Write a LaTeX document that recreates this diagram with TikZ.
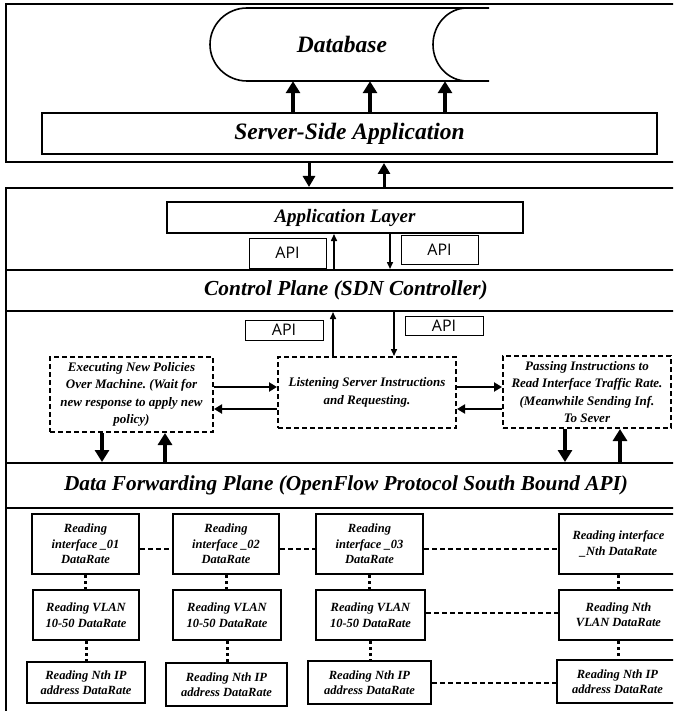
\documentclass[tikz,border=0pt]{standalone}
\usepackage{fontspec}
\setmainfont{Liberation Serif}
\newfontfamily\apifont{Open Sans}
\usetikzlibrary{arrows.meta}
\frenchspacing
\tikzset{
  frame/.style={draw, line width=2pt, inner sep=0pt},
  box/.style={draw, line width=2pt, inner sep=0pt, align=center},
  apibox/.style={draw, line width=0.9pt, inner sep=0pt, font=\apifont\fontsize{16}{18}\selectfont},
  dbox/.style={draw, line width=2pt, dash pattern=on 5pt off 3pt, inner sep=0pt, align=center, font=\fontsize{13}{17.5}\selectfont\bfseries\itshape},
  rbox/.style={draw, line width=2pt, inner sep=0pt, align=center, font=\fontsize{12.5}{15.5}\selectfont\bfseries\itshape},
  bigarrow/.style={line width=3.5pt, -{Triangle[length=12pt,width=14pt]}},
  midarrow/.style={line width=3pt, -{Triangle[length=11pt,width=12pt]}},
  thinarrow/.style={line width=1.5pt, -{Triangle[length=7pt,width=6pt]}},
  harrow/.style={line width=2.5pt, -{Triangle[length=8pt,width=9pt]}},
  dashcon/.style={line width=2pt, dash pattern=on 5pt off 3pt},
  dotcon/.style={line width=3pt, dash pattern=on 3pt off 3pt},
}
\begin{document}
\begin{tikzpicture}[x=1pt,y=-1pt]
\useasboundingbox (0,0) rectangle (673,711);
\clip (0,0) rectangle (673,711);
% top frame
\node[frame, minimum width=680pt, minimum height=158pt] (top) at (346,83) {};
% database
\node[inner sep=0pt, minimum width=279pt, minimum height=73pt, font=\fontsize{23.5}{28}\selectfont\bfseries\itshape] (db) at (342,44.5) {Database};
\draw[line width=1.6pt] (489,8) -- (247,8) arc[start angle=270, end angle=90, x radius=37, y radius=36.5] -- (489,81);
\draw[line width=1.6pt] (467,8) arc[start angle=270, end angle=90, x radius=34, y radius=36.5];
\node[box, minimum width=615pt, minimum height=41pt, font=\fontsize{23.5}{28}\selectfont\bfseries\itshape] (ssa) at (349.5,133.5) {Server-Side Application};
\foreach \dx in {-56.5,20.5,95.5}
  \draw[bigarrow] ([xshift=\dx pt]ssa.north) -- ([xshift=\dx pt]ssa.north |- db.south);
% second frame
\node[frame, minimum width=680pt, minimum height=537pt] (main) at (346,456.5) {};
\draw[midarrow] ([xshift=-37pt]top.south) -- ([xshift=-37pt]top.south |- main.north);
\draw[midarrow] ([xshift=38pt]top.south |- main.north) -- ([xshift=38pt]top.south);
% application layer
\node[box, minimum width=356pt, minimum height=31pt, font=\fontsize{19}{22}\selectfont\bfseries\itshape] (app) at (345,217.5) {Application Layer};
\node[frame, minimum width=680pt, minimum height=41pt, font=\fontsize{21.4}{25}\selectfont\bfseries\itshape] (cp) at (346,290.5) {Control Plane (SDN Controller)};
\node[apibox, minimum width=77pt, minimum height=30pt] (api1) at (287.5,253) {API};
\node[apibox, minimum width=77pt, minimum height=29pt] (api2) at (439.5,249.5) {API};
\draw[thinarrow] ([xshift=-11pt]app.south |- cp.north) -- ([xshift=-11pt]app.south);
\draw[thinarrow] ([xshift=45pt]app.south) -- ([xshift=45pt]app.south |- cp.north);
% dashed boxes
\node[dbox, minimum width=163pt, minimum height=75pt] (left) at (131.5,394.5) {Executing New Policies\\Over Machine. (Wait for\\new response to apply new\\policy)};
\node[dbox, minimum width=178pt, minimum height=71pt] (mid) at (367,392.5) {Listening Server Instructions\\and Requesting.};
\node[dbox, minimum width=168pt, minimum height=72pt] (right) at (587,392) {Passing Instructions to\\Read Interface Traffic Rate.\\(Meanwhile Sending Inf.\\To Sever};
\node[apibox, minimum width=78pt, minimum height=20pt] (api3) at (284,330) {API};
\node[apibox, minimum width=78pt, minimum height=19pt] (api4) at (444,325.5) {API};
\draw[thinarrow] ([xshift=-34pt]mid.north) -- ([xshift=-34pt]mid.north |- cp.south);
\draw[thinarrow] ([xshift=27pt]mid.north |- cp.south) -- ([xshift=27pt]mid.north);
\draw[harrow] ([yshift=5.5pt]mid.west -| left.east) -- ([yshift=5.5pt]mid.west);
\draw[harrow] ([yshift=-16.5pt]mid.west) -- ([yshift=-16.5pt]mid.west -| left.east);
\draw[harrow] ([yshift=5.5pt]mid.east) -- ([yshift=5.5pt]mid.east -| right.west);
\draw[harrow] ([yshift=-16.5pt]mid.east -| right.west) -- ([yshift=-16.5pt]mid.east);
% data forwarding plane
\node[frame, minimum width=680pt, minimum height=45pt, font=\fontsize{21.3}{25}\selectfont\bfseries\itshape] (dfp) at (346,485.5) {Data Forwarding Plane (OpenFlow Protocol South Bound API)};
\draw[bigarrow] ([xshift=-29.5pt]left.south) -- ([xshift=-29.5pt]left.south |- dfp.north);
\draw[bigarrow] ([xshift=33.5pt]left.south |- dfp.north) -- ([xshift=33.5pt]left.south);
\draw[bigarrow] ([xshift=-22pt]right.south) -- ([xshift=-22pt]right.south |- dfp.north);
\draw[bigarrow] ([xshift=33pt]right.south |- dfp.north) -- ([xshift=33pt]right.south);
% reading boxes
\node[rbox, minimum width=107pt, minimum height=60pt] (r1a) at (85.5,544) {Reading\\interface \_01\\DataRate};
\node[rbox, minimum width=106pt, minimum height=60pt] (r1b) at (226,544) {Reading\\interface \_02\\DataRate};
\node[rbox, minimum width=107pt, minimum height=60pt] (r1c) at (369.5,544) {Reading\\interface \_03\\DataRate};
\node[rbox, minimum width=119pt, minimum height=60pt] (r1d) at (618.5,544) {Reading interface\\\_Nth DataRate};
\node[rbox, minimum width=106pt, minimum height=50pt] (r2a) at (86,615) {Reading VLAN\\10-50 DataRate};
\node[rbox, minimum width=108pt, minimum height=50pt] (r2b) at (227,615) {Reading VLAN\\10-50 DataRate};
\node[rbox, minimum width=109pt, minimum height=50pt] (r2c) at (370.5,615) {Reading VLAN\\10-50 DataRate};
\node[rbox, minimum width=119pt, minimum height=50pt] (r2d) at (618.5,615) {Reading Nth\\VLAN DataRate};
\node[rbox, minimum width=118pt, minimum height=41pt] (r3a) at (86,682.5) {Reading Nth IP\\address DataRate};
\node[rbox, minimum width=121pt, minimum height=43pt] (r3b) at (226.5,684.5) {Reading Nth IP\\address DataRate};
\node[rbox, minimum width=123pt, minimum height=43pt] (r3c) at (369.5,682.5) {Reading Nth IP\\address DataRate};
\node[rbox, minimum width=121pt, minimum height=43pt] (r3d) at (617.5,681.5) {Reading Nth IP\\address DataRate};
\foreach \c in {a,b,c,d} {
  \draw[dotcon] (r1\c.south) -- (r1\c.south |- r2\c.north);
  \draw[dotcon] (r2\c.south) -- (r2\c.south |- r3\c.north);
}
\draw[dashcon] ([yshift=-5pt]r1a.east) -- ([yshift=-5pt]r1a.east -| r1b.west);
\draw[dashcon] ([yshift=-5pt]r1b.east) -- ([yshift=-5pt]r1b.east -| r1c.west);
\draw[dashcon] ([yshift=-5pt]r1c.east) -- ([yshift=-5pt]r1c.east -| r1d.west);
\draw[dashcon] ([yshift=2pt]r2c.east) -- ([yshift=2pt]r2c.east -| r2d.west);
\draw[dashcon] (r3c.east) -- (r3c.east -| r3d.west);
\end{tikzpicture}
\end{document}
